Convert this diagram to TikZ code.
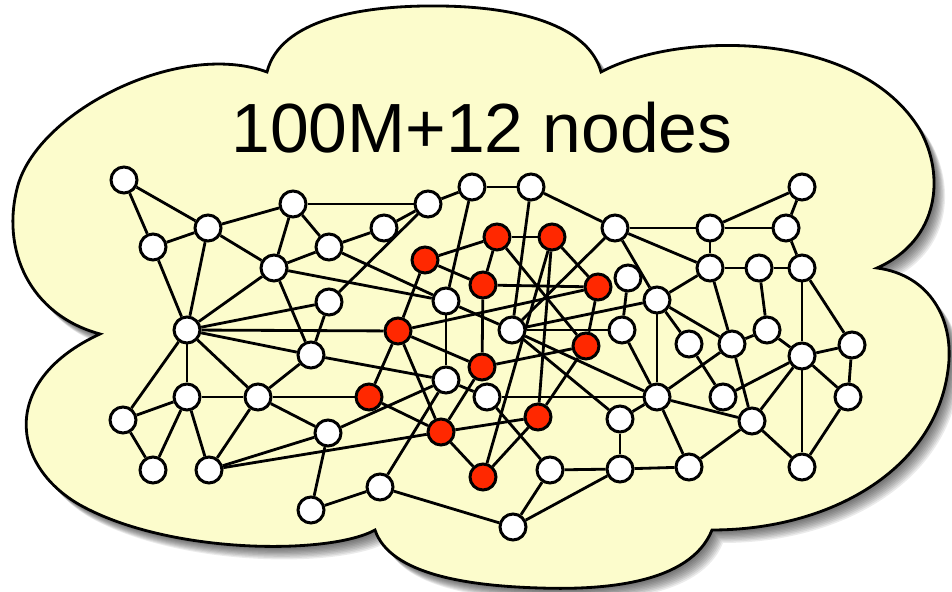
\documentclass[tikz,border=0pt]{standalone}
\usepackage{fontspec}
\setmainfont{Liberation Sans}
\usetikzlibrary{arrows}

\definecolor{cloudfill}{RGB}{252,252,204}
\definecolor{hotred}{RGB}{255,40,0}

\pgfdeclarelayer{back}
\pgfdeclarelayer{wires}
\pgfsetlayers{back,wires,main}

% outline of the cloud, in pixel units
\newcommand{\cloudoutline}{(100,334) .. controls (30,315) and (0,250) .. (18,185)
    .. controls (40,110) and (180,40) .. (267,72)
    .. controls (280,20) and (360,5) .. (440,6)
    .. controls (530,7) and (590,30) .. (601,72)
    .. controls (680,30) and (860,30) .. (920,130)
    .. controls (945,175) and (940,240) .. (877,268)
    .. controls (930,275) and (955,320) .. (948,370)
    .. controls (935,470) and (830,530) .. (712,530)
    .. controls (690,585) and (600,590) .. (540,588)
    .. controls (470,586) and (390,575) .. (375,530)
    .. controls (330,555) and (170,555) .. (80,505)
    .. controls (10,465) and (0,380) .. (100,334) -- cycle}

\begin{document}
\begin{tikzpicture}[x=0.01cm, y=-0.01cm]
    \tikzstyle{vertex} = [circle, draw, fill=white, line width=0.85pt, minimum size=7.4pt, inner sep=0pt]
    \tikzstyle{hot} = [vertex, fill=hotred]
    \tikzstyle{link} = [draw, line width=0.8pt]

    \useasboundingbox (0,0) rectangle (952,592);

    % cloud with its shadow
    \begin{pgfonlayer}{back}
        \foreach \k in {1,...,10}
            \fill [black, opacity=0.08, shift={(\k*1.1,\k*1.3)}] \cloudoutline;
        \filldraw [fill=cloudfill, draw=black, line width=0.8pt] \cloudoutline;
    \end{pgfonlayer}

    \node (title) at (482,153) [anchor=base, font=\fontsize{19.8}{22}\selectfont] {100M+12 nodes};

    % white nodes
    \node [vertex] (w1) at (124,180) {};
    \node [vertex] (w2) at (153,247) {};
    \node [vertex] (w3) at (208,228) {};
    \node [vertex] (w4) at (293,204) {};
    \node [vertex] (w5) at (274,268) {};
    \node [vertex] (w6) at (329,247) {};
    \node [vertex] (w7) at (384,228) {};
    \node [vertex] (w8) at (428,204) {};
    \node [vertex] (w9) at (472,187) {};
    \node [vertex] (w10) at (531,187) {};
    \node [vertex] (w11) at (615,228) {};
    \node [vertex] (w12) at (710,228) {};
    \node [vertex] (w13) at (786,228) {};
    \node [vertex] (w14) at (802,187) {};
    \node [vertex] (w15) at (710,268) {};
    \node [vertex] (w16) at (759,268) {};
    \node [vertex] (w17) at (802,268) {};
    \node [vertex] (w18) at (628,278) {};
    \node [vertex] (w19) at (657,300) {};
    \node [vertex] (w20) at (329,302) {};
    \node [vertex] (w21) at (446,301) {};
    \node [vertex] (w22) at (187,330) {};
    \node [vertex] (w23) at (512,330) {};
    \node [vertex] (w24) at (622,330) {};
    \node [vertex] (w25) at (311,355) {};
    \node [vertex] (w26) at (446,380) {};
    \node [vertex] (w27) at (487,397) {};
    \node [vertex] (w28) at (689,344) {};
    \node [vertex] (w29) at (732,344) {};
    \node [vertex] (w30) at (767,330) {};
    \node [vertex] (w31) at (802,356) {};
    \node [vertex] (w32) at (852,345) {};
    \node [vertex] (w33) at (187,397) {};
    \node [vertex] (w34) at (258,397) {};
    \node [vertex] (w35) at (123,420) {};
    \node [vertex] (w36) at (153,470) {};
    \node [vertex] (w37) at (209,470) {};
    \node [vertex] (w38) at (328,433) {};
    \node [vertex] (w39) at (657,397) {};
    \node [vertex] (w40) at (620,419) {};
    \node [vertex] (w41) at (723,397) {};
    \node [vertex] (w42) at (752,421) {};
    \node [vertex] (w43) at (848,397) {};
    \node [vertex] (w44) at (550,470) {};
    \node [vertex] (w45) at (620,469) {};
    \node [vertex] (w46) at (689,467) {};
    \node [vertex] (w47) at (802,467) {};
    \node [vertex] (w48) at (380,487) {};
    \node [vertex] (w49) at (311,510) {};
    \node [vertex] (w50) at (513,527) {};

    % red nodes
    \node [hot] (r1) at (497,237) {};
    \node [hot] (r2) at (552,237) {};
    \node [hot] (r3) at (425,260) {};
    \node [hot] (r4) at (483,285) {};
    \node [hot] (r5) at (598,287) {};
    \node [hot] (r6) at (398,331) {};
    \node [hot] (r7) at (586,346) {};
    \node [hot] (r8) at (482,367) {};
    \node [hot] (r9) at (369,397) {};
    \node [hot] (r10) at (538,417) {};
    \node [hot] (r11) at (441,432) {};
    \node [hot] (r12) at (483,477) {};

    \begin{pgfonlayer}{wires}
    \foreach \a/\b in {w1/w2, w1/w3, w2/w3, w2/w22, w3/w22, w3/w4, w3/w5, w4/w5, w4/w6, w4/w8,
        w5/w6, w5/w21, w5/w25, w5/w22, w6/w7, w6/w21, w7/w8, w8/w9, w8/w20, w9/w10, w9/w21,
        w10/w11, w10/w23, w11/w12, w11/w15, w11/w19, w11/w23, w12/w13, w12/w14, w12/w15,
        w13/w14, w13/w17, w15/w16, w15/w19, w15/w29, w16/w17, w16/w30, w17/w31, w17/w32,
        w18/w24, w19/w23, w19/w39, w19/w28, w19/w29, w20/w22, w20/w25, w21/w23, w21/w26,
        w22/r6, w22/w25, w22/w33, w22/w34, w22/w35, w23/w24, w23/w39, w23/w40, w24/w39,
        w25/w34, w25/w26, w26/w27, w26/w38, w26/w48, w27/w39, w27/w44, w28/w41, w29/w30,
        w29/w39, w29/w42, w30/w31, w31/w32, w31/w41, w31/w42, w31/w43, w31/w47, w32/w43,
        w33/w34, w33/w35, w33/w36, w33/w37, w34/w37, w34/w38, w34/r9, w35/w36, w37/w38,
        w37/r11, w38/w49, w39/w40, w39/w42, w39/w46, w40/w45, w42/w46, w42/w47, w43/w47,
        w44/w45, w44/w50, w45/w46, w45/w50, w48/w49, w48/w50}
        \path [link] (\a) -- (\b);
    \foreach \a/\b in {r1/r2, r1/r3, r1/r4, r1/r7, r2/r5, r2/r10, r2/r12, r3/r4, r3/r6,
        r4/r5, r4/r8, r5/r6, r5/r7, r6/r8, r6/r9, r6/r11, r7/r8, r7/r10, r8/r11, r9/r11,
        r10/r11, r10/r12, r11/r12}
        \path [link] (\a) -- (\b);
    \end{pgfonlayer}
\end{tikzpicture}
\end{document}
